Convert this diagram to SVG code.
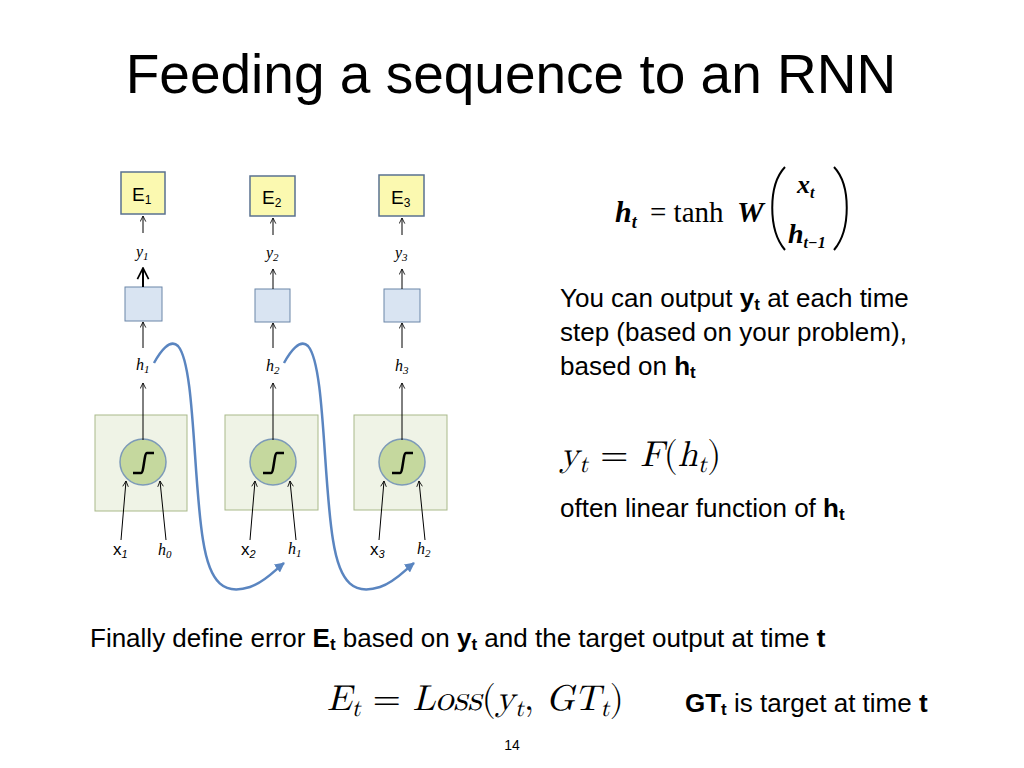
<svg xmlns="http://www.w3.org/2000/svg" width="1024" height="768" viewBox="0 0 1024 768">
<style>
.t{font-family:"Liberation Sans",Arial,sans-serif;fill:#000}
.m{font-family:"Liberation Serif","Times New Roman",serif;font-style:italic;fill:#000}
.ln{stroke:#000;stroke-width:1;fill:none}
.E{fill:#fbf9b0;stroke:#5a7190;stroke-width:1.5}
.b{fill:#d9e4f2;stroke:#6b86a8;stroke-width:1}
.g{fill:#eff3e6;stroke:#a9b98a;stroke-width:1}
.c{fill:#c5d89e;stroke:#7d9ab8;stroke-width:1.5}
.bl{stroke:#5a85c0;stroke-width:2.5;fill:none}
</style>
<defs>
<marker id="a" viewBox="0 0 10 10" refX="9" refY="5" markerWidth="7" markerHeight="7" orient="auto"><path d="M1,1 L9,5 L1,9" fill="none" stroke="#000" stroke-width="1.2"/></marker>
<marker id="ab" viewBox="0 0 10 10" refX="9" refY="5" markerWidth="4" markerHeight="4" orient="auto"><path d="M0,0 L10,5 L0,10 Z" fill="#5a85c0"/></marker>
</defs>
<rect width="1024" height="768" fill="#fff"/>
<text class="t" x="511" y="93" font-size="55" text-anchor="middle">Feeding a sequence to an RNN</text>

<g id="col1">
<rect class="E" x="121" y="172" width="44" height="42"/><text class="t" x="132" y="201" font-size="19">E<tspan font-size="12" dy="3">1</tspan></text>
<rect class="b" x="125" y="287" width="37" height="34"/>
<rect class="g" x="95" y="415" width="92" height="96"/>
<circle class="c" cx="143" cy="462" r="23"/>
<path d="M133,473 L141,473 C144,473 144,453 147,453 L154,453" stroke="#000" stroke-width="2.5" fill="none"/>
</g>
<g id="col2">
<rect class="E" x="250" y="176" width="45" height="40"/><text class="t" x="262" y="204" font-size="19">E<tspan font-size="12" dy="3">2</tspan></text>
<rect class="b" x="255" y="289" width="35" height="33"/>
<rect class="g" x="225" y="415" width="93" height="95"/>
<circle class="c" cx="273" cy="462" r="23"/>
<path d="M263,473 L271,473 C274,473 274,453 277,453 L284,453" stroke="#000" stroke-width="2.5" fill="none"/>
</g>
<g id="col3">
<rect class="E" x="379" y="175" width="45" height="41"/><text class="t" x="391" y="204" font-size="19">E<tspan font-size="12" dy="3">3</tspan></text>
<rect class="b" x="384" y="289" width="36" height="33"/>
<rect class="g" x="354" y="415" width="93" height="95"/>
<circle class="c" cx="402" cy="462" r="23"/>
<path d="M392,473 L400,473 C403,473 403,453 406,453 L413,453" stroke="#000" stroke-width="2.5" fill="none"/>
</g>

<g id="labels" class="m" font-size="16">
<text x="136" y="257">y<tspan font-size="11" dy="3">1</tspan></text>
<text x="266" y="258">y<tspan font-size="11" dy="3">2</tspan></text>
<text x="395" y="258">y<tspan font-size="11" dy="3">3</tspan></text>
<text x="136" y="370">h<tspan font-size="11" dy="3">1</tspan></text>
<text x="266" y="371">h<tspan font-size="11" dy="3">2</tspan></text>
<text x="395" y="371">h<tspan font-size="11" dy="3">3</tspan></text>
<text x="158" y="555">h<tspan font-size="11" dy="3">0</tspan></text>
<text x="288" y="554">h<tspan font-size="11" dy="3">1</tspan></text>
<text x="417" y="554">h<tspan font-size="11" dy="3">2</tspan></text>
<text class="t" x="113" y="555" font-style="normal" font-size="17">x<tspan font-size="11" dy="3" font-style="italic">1</tspan></text>
<text class="t" x="241" y="555" font-style="normal" font-size="17">x<tspan font-size="11" dy="3" font-style="italic">2</tspan></text>
<text class="t" x="370" y="555" font-style="normal" font-size="17">x<tspan font-size="11" dy="3" font-style="italic">3</tspan></text>
</g>

<g id="connectors">
<g class="ln" marker-end="url(#a)">
<path d="M143,233 L143,216"/><path d="M273,235 L273,218"/><path d="M402,235 L402,218"/>
<path d="M143,287 L143,268" stroke-width="2"/><path d="M273,289 L273,269"/><path d="M402,289 L402,269"/>
<path d="M143,348 L143,322"/><path d="M273,348 L273,323"/><path d="M402,348 L402,323"/>
<path d="M143,440 L143,383"/><path d="M273,440 L273,383"/><path d="M402,440 L402,383"/>
<path d="M121,540 L126,481"/><path d="M166,540 L160,481"/>
<path d="M250,540 L255,481"/><path d="M296,540 L290,481"/>
<path d="M379,540 L384,481"/><path d="M425,540 L419,481"/>
</g>
<path class="bl" marker-end="url(#ab)" d="M154,363 C160,352 170,338 178,346 C195,365 193,480 203,540 C210,585 225,595 250,587 C265,582 275,570 284,563"/>
<path class="bl" marker-end="url(#ab)" d="M284,363 C290,352 300,338 308,346 C325,365 323,480 333,540 C340,585 355,595 380,587 C395,582 405,570 414,563"/>
</g>

<g id="eq1" font-family="Liberation Serif,serif" font-size="30" font-weight="bold">
<text x="615" y="222" font-style="italic">h<tspan font-size="18" dy="6">t</tspan></text>
<text x="650" y="222" font-weight="normal" font-size="29">= tanh</text>
<text x="737" y="222" font-style="italic">W</text>
<path d="M785,167 C768,185 768,230 785,250" fill="none" stroke="#000" stroke-width="2"/>
<path d="M834,167 C851,185 851,230 834,250" fill="none" stroke="#000" stroke-width="2"/>
<text x="797" y="193" font-style="italic" font-size="26">x<tspan font-size="16" dy="5">t</tspan></text>
<text x="788" y="243" font-style="italic" font-size="28">h<tspan font-size="16" dy="5">t−1</tspan></text>
</g>

<g class="t" font-size="26">
<text x="560" y="307">You can output <tspan font-weight="bold">y<tspan font-size="17" dy="3">t</tspan></tspan><tspan dy="-3"> at each time</tspan></text>
<text x="560" y="341">step (based on your problem),</text>
<text x="560" y="375">based on <tspan font-weight="bold">h<tspan font-size="17" dy="3">t</tspan></tspan></text>
<text x="560" y="517">often linear function of <tspan font-weight="bold">h<tspan font-size="17" dy="3">t</tspan></tspan></text>
<text x="90" y="647">Finally define error <tspan font-weight="bold">E<tspan font-size="17" dy="3">t</tspan></tspan><tspan dy="-3"> based on </tspan><tspan font-weight="bold">y<tspan font-size="17" dy="3">t</tspan></tspan><tspan dy="-3"> and the target output at time </tspan><tspan font-weight="bold">t</tspan></text>
<text x="685" y="712"><tspan font-weight="bold">GT<tspan font-size="17" dy="3">t</tspan></tspan><tspan dy="-3"> is target at time </tspan><tspan font-weight="bold">t</tspan></text>
</g>
<g font-family="Latin Modern Math,DejaVu Serif,serif" font-size="36">
<text x="560" y="466"><tspan font-style="italic">y</tspan><tspan font-size="24" dy="6" font-style="italic">t</tspan><tspan dy="-6"> = </tspan><tspan font-style="italic">F</tspan>(<tspan font-style="italic">h</tspan><tspan font-size="24" dy="6" font-style="italic">t</tspan><tspan dy="-6">)</tspan></text>
<text x="327" y="710"><tspan font-style="italic">E</tspan><tspan font-size="24" dy="6" font-style="italic">t</tspan><tspan dy="-6"> = </tspan><tspan font-style="italic">Loss</tspan>(<tspan font-style="italic">y</tspan><tspan font-size="24" dy="6" font-style="italic">t</tspan><tspan dy="-6">, </tspan><tspan font-style="italic">GT</tspan><tspan font-size="24" dy="6" font-style="italic">t</tspan><tspan dy="-6">)</tspan></text>
</g>
<text class="t" x="512" y="750" font-size="14" text-anchor="middle">14</text>
</svg>
